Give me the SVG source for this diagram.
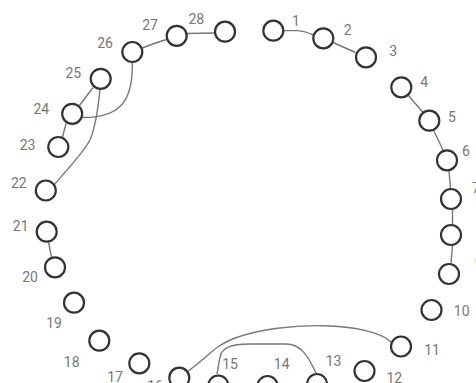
<svg xmlns="http://www.w3.org/2000/svg" width="476" height="383" viewBox="0 0 476 383">
<style>
.n circle{fill:#fff;stroke:#333;stroke-width:2.2}
.n text{font-family:Roboto,"Liberation Sans",sans-serif;font-size:14px;fill:#777;text-anchor:middle;dominant-baseline:central}
#edges path{fill:none;stroke:#777;stroke-width:1.4}
</style>
<rect width="476" height="383" fill="#fff"/>
<g id="edges">
<path d="M283.5,30.6 L298,30.6 Q304,31 313.5,35"/>
<path d="M333,42.5 L355.5,52.5"/>
<path d="M408,95 L423,112.5"/>
<path d="M434,131 L443,150"/>
<path d="M449,170.5 L450.5,188.5"/>
<path d="M452.5,209 L452.5,224.5"/>
<path d="M452.5,245.5 L451,263.5"/>
<path d="M391,342 C370,322 285,320 235,338 C215,345 207,358 188,371"/>
<path d="M316,373 C308,356 301,344 286,344 L250,344 C230,344 222,348 220,357 L217,374"/>
<path d="M48.5,242 L51.5,257"/>
<path d="M66,123.5 L62.5,137"/>
<path d="M79.5,105.5 L93,87.5"/>
<path d="M100,89 C98,110 95,128 90,140 C84,152 70,166 54,185"/>
<path d="M132.3,62 C133,95 125,118 82.5,117.5"/>
<path d="M142,48 Q155,43 166.5,39.5"/>
<path d="M187,33.5 L215,33"/>
</g>
<g id="node1" class="n"><circle cx="273.3" cy="30.7" r="10"/><text x="296" y="20.5">1</text></g>
<g id="node2" class="n"><circle cx="323.3" cy="38.3" r="10"/><text x="347.7" y="30">2</text></g>
<g id="node3" class="n"><circle cx="366" cy="57.3" r="10"/><text x="393.3" y="50.5">3</text></g>
<g id="node4" class="n"><circle cx="401.3" cy="87.3" r="10"/><text x="424.3" y="81.7">4</text></g>
<g id="node5" class="n"><circle cx="429.3" cy="120.7" r="10"/><text x="452" y="117.2">5</text></g>
<g id="node6" class="n"><circle cx="447" cy="160.3" r="10"/><text x="466" y="150.5">6</text></g>
<g id="node7" class="n"><circle cx="451" cy="199" r="10"/><text x="476" y="188">7</text></g>
<g id="node8" class="n"><circle cx="451" cy="235" r="10"/></g>
<g id="node9" class="n"><circle cx="449" cy="274" r="10"/><text x="479" y="263">9</text></g>
<g id="node10" class="n"><circle cx="431.5" cy="310" r="10"/><text x="461.7" y="310.5">10</text></g>
<g id="node11" class="n"><circle cx="401" cy="346.5" r="10"/><text x="432" y="350">11</text></g>
<g id="node12" class="n"><circle cx="364.5" cy="371" r="10"/><text x="394.3" y="378">12</text></g>
<g id="node13" class="n"><circle cx="317" cy="384" r="10"/><text x="333.5" y="361">13</text></g>
<g id="node14" class="n"><circle cx="267.5" cy="386" r="10"/><text x="281.7" y="363.5">14</text></g>
<g id="node15" class="n"><circle cx="218.3" cy="385.5" r="10"/><text x="230" y="363.5">15</text></g>
<g id="node16" class="n"><circle cx="179.3" cy="377.7" r="10"/><text x="155" y="386">16</text></g>
<g id="node17" class="n"><circle cx="139.3" cy="363.3" r="10"/><text x="115" y="377.3">17</text></g>
<g id="node18" class="n"><circle cx="99.3" cy="340.7" r="10"/><text x="71.7" y="361.5">18</text></g>
<g id="node19" class="n"><circle cx="74" cy="302.7" r="10"/><text x="54" y="322.5">19</text></g>
<g id="node20" class="n"><circle cx="55" cy="267.3" r="10"/><text x="30" y="277.2">20</text></g>
<g id="node21" class="n"><circle cx="46.7" cy="231.7" r="10"/><text x="20.7" y="226">21</text></g>
<g id="node22" class="n"><circle cx="45.8" cy="190.5" r="10"/><text x="18.8" y="182.5">22</text></g>
<g id="node23" class="n"><circle cx="58.3" cy="147" r="10"/><text x="27.5" y="145">23</text></g>
<g id="node24" class="n"><circle cx="72.2" cy="113.8" r="10"/><text x="41.3" y="108.7">24</text></g>
<g id="node25" class="n"><circle cx="100.7" cy="78.8" r="10"/><text x="73.3" y="73">25</text></g>
<g id="node26" class="n"><circle cx="132.3" cy="52" r="10"/><text x="105" y="42.8">26</text></g>
<g id="node27" class="n"><circle cx="176.7" cy="35.8" r="10"/><text x="150" y="25.3">27</text></g>
<g id="node28" class="n"><circle cx="225" cy="31.7" r="10"/><text x="196.3" y="18.7">28</text></g>
</svg>
